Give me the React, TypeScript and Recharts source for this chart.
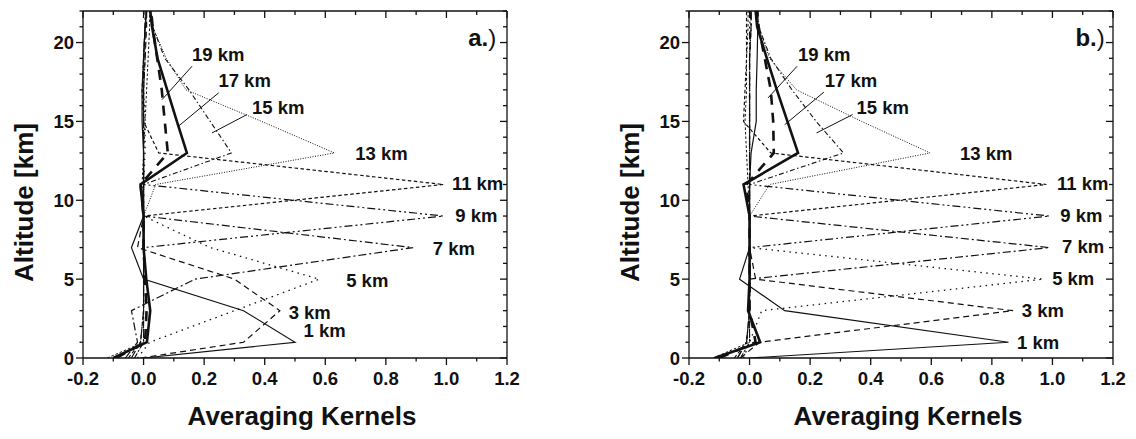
import React from 'react';
import { ScatterChart, Scatter, XAxis, YAxis, Label } from 'recharts';

// Retrieval altitude grid (km) on which every kernel is sampled
const ALTITUDES = [0, 1, 3, 5, 7, 9, 11, 13, 15, 17, 19, 21, 22];

// Kernel names (nominal altitude of each averaging kernel)
const KERNEL_NAMES = ['1 km', '3 km', '5 km', '7 km', '9 km', '11 km', '13 km', '15 km', '17 km', '19 km', '21 km'];

// Panel a.) kernel values, one array per kernel, one value per altitude
const A_K1 = [0.0, 0.5, 0.33, 0.0, -0.04, 0.0, 0.0, 0.0, -0.005, -0.005, 0.0, 0.005, 0.01];
const A_K3 = [-0.01, 0.33, 0.45, 0.3, -0.02, 0.0, 0.0, 0.0, 0.0, 0.0, 0.005, 0.01, 0.01];
const A_K5 = [-0.02, 0.02, 0.3, 0.58, 0.22, 0.0, 0.0, 0.005, 0.005, 0.0, 0.0, 0.005, 0.01];
const A_K7 = [-0.06, -0.02, -0.04, 0.17, 0.89, 0.0, 0.0, 0.0, 0.0, 0.0, 0.0, 0.005, 0.005];
const A_K9 = [-0.04, -0.01, 0.0, 0.0, 0.0, 0.99, 0.0, 0.0, 0.0, 0.0, 0.005, 0.005, 0.01];
const A_K11 = [-0.05, -0.01, 0.0, 0.0, 0.0, 0.0, 0.99, 0.05, 0.0, -0.005, 0.0, 0.005, 0.01];
const A_K13 = [-0.03, 0.0, 0.0, 0.0, 0.0, 0.0, 0.04, 0.63, 0.39, 0.14, 0.075, 0.03, 0.02];
const A_K15 = [-0.03, 0.0, 0.0, 0.0, 0.0, 0.0, 0.0, 0.29, 0.22, 0.15, 0.07, 0.03, 0.025];
const A_K17 = [-0.1, 0.011, 0.022, 0.009, 0.0, 0.0, -0.01, 0.143, 0.11, 0.078, 0.046, 0.028, 0.022];
const A_K19 = [-0.09, 0.005, 0.01, 0.005, 0.0, 0.0, -0.01, 0.08, 0.07, 0.06, 0.045, 0.03, 0.025];
const A_K21 = [-0.12, 0.0, 0.0, 0.0, 0.0, 0.0, -0.005, 0.0, 0.005, 0.01, 0.015, 0.02, 0.02];

// Panel b.) kernel values
const B_K1 = [0.0, 0.855, 0.116, -0.033, 0.0, 0.0, 0.0, 0.005, 0.022, 0.022, 0.025, 0.027, 0.028];
const B_K3 = [-0.03, 0.033, 0.87, 0.02, 0.0, 0.0, 0.0, 0.0, 0.0, 0.0, 0.0, 0.005, 0.005];
const B_K5 = [-0.02, 0.0, 0.04, 0.97, 0.0, 0.0, 0.0, 0.0, 0.0, 0.0, 0.0, 0.005, 0.005];
const B_K7 = [-0.04, -0.01, 0.0, 0.0, 0.99, 0.0, 0.0, 0.0, 0.0, 0.0, 0.0, 0.005, 0.005];
const B_K9 = [-0.04, -0.01, 0.0, 0.0, 0.0, 0.99, 0.0, 0.0, 0.0, 0.0, 0.0, 0.0, 0.005];
const B_K11 = [-0.05, -0.01, 0.0, 0.0, 0.0, 0.0, 0.98, 0.07, -0.02, -0.015, -0.01, -0.01, -0.01];
const B_K13 = [-0.03, 0.0, 0.0, 0.0, 0.0, 0.0, 0.066, 0.596, 0.37, 0.155, 0.066, 0.03, 0.025];
const B_K15 = [-0.03, 0.0, 0.0, 0.0, 0.0, 0.0, 0.0, 0.31, 0.22, 0.14, 0.07, 0.03, 0.025];
const B_K17 = [-0.115, 0.035, -0.005, 0.0, 0.0, 0.0, -0.02, 0.16, 0.125, 0.09, 0.057, 0.025, 0.02];
const B_K19 = [-0.1, 0.02, 0.0, 0.0, 0.0, 0.0, -0.01, 0.08, 0.078, 0.07, 0.05, 0.03, 0.025];
const B_K21 = [-0.12, 0.0, 0.0, 0.0, 0.0, 0.0, -0.005, -0.01, -0.015, -0.01, -0.01, -0.005, -0.005];

// In-plot kernel labels: text, kernel value (x) and altitude (y) of the text baseline start
const LABEL_TEXT = ['19 km', '17 km', '15 km', '13 km', '11 km', '9 km', '7 km', '5 km', '3 km', '1 km'];
const A_LABEL_X = [0.16, 0.247, 0.358, 0.699, 1.018, 1.029, 0.955, 0.669, 0.479, 0.528];
const A_LABEL_Y = [18.82, 17.21, 15.49, 12.57, 10.66, 8.61, 6.53, 4.51, 2.5, 1.32];
const B_LABEL_X = [0.16, 0.248, 0.353, 0.695, 1.015, 1.026, 1.032, 0.999, 0.899, 0.883];
const B_LABEL_Y = [18.82, 17.19, 15.49, 12.57, 10.66, 8.61, 6.64, 4.62, 2.61, 0.6];

// Leader lines from the 19/17/15 km labels to their curves: [x0, y0, x1, y1]
const A_LEADERS = [
  [0.16, 18.5, 0.061, 16.38],
  [0.248, 16.81, 0.116, 14.71],
  [0.341, 15.43, 0.226, 14.27],
];
const B_LEADERS = [
  [0.157, 18.5, 0.061, 16.49],
  [0.245, 16.85, 0.116, 14.79],
  [0.34, 15.43, 0.221, 14.27],
];

// Panel tags and their anchor positions
const A_TAG = { x: 1.072, y: 19.75, letter: 'a.' };
const B_TAG = { x: 1.076, y: 19.75, letter: 'b.' };

// Axis ticks
const X_TICKS = [-0.2, -0.1, 0, 0.1, 0.2, 0.3, 0.4, 0.5, 0.6, 0.7, 0.8, 0.9, 1.0, 1.1, 1.2];
const Y_TICKS = [0, 1, 2, 3, 4, 5, 6, 7, 8, 9, 10, 11, 12, 13, 14, 15, 16, 17, 18, 19, 20, 21, 22];

// Line styles per kernel, in the same order as KERNEL_NAMES
const LINE_STYLES = [
  { w: 1.2, dash: undefined },
  { w: 1.2, dash: '6 4' },
  { w: 1.3, dash: '1.5 4.5' },
  { w: 1.2, dash: '8 3 2 3' },
  { w: 1.2, dash: '8 3 2 3 2 3' },
  { w: 1.2, dash: '3.5 2.5' },
  { w: 1.0, dash: '1 1.5' },
  { w: 1.1, dash: '5 2.5 1.5 2.5' },
  { w: 2.6, dash: undefined },
  { w: 2.6, dash: '10 8' },
  { w: 1.0, dash: '2.5 2' },
];

const FONT = "'Liberation Sans', Arial, Helvetica, sans-serif";
const INK = '#111';

const isMajor = (v: number, step: number) => Math.abs(v / step - Math.round(v / step)) < 1e-6;

const toPoints = (values: number[]) => values.map((v, i) => ({ x: v, y: ALTITUDES[i] }));

const BottomTick = (p: any) => {
  const v = p.payload.value;
  const major = isMajor(v, 0.2);
  return (
    <g>
      <line x1={p.x} x2={p.x} y1={p.y} y2={p.y + (major ? 7 : 3.5)} stroke={INK} strokeWidth={1.3} />
      {major && (
        <text x={p.x} y={p.y + 27} textAnchor="middle" fontFamily={FONT} fontWeight="bold" fontSize={18.5} fill={INK}>
          {v.toFixed(1)}
        </text>
      )}
    </g>
  );
};

const TopTick = (p: any) => {
  const major = isMajor(p.payload.value, 0.2);
  return <line x1={p.x} x2={p.x} y1={p.y} y2={p.y + (major ? 7 : 4)} stroke={INK} strokeWidth={1.3} />;
};

const LeftTick = (p: any) => {
  const v = p.payload.value;
  const major = isMajor(v, 5);
  return (
    <g>
      <line x1={p.x - (major ? 7 : 3.5)} x2={p.x} y1={p.y} y2={p.y} stroke={INK} strokeWidth={1.3} />
      {major && (
        <text x={p.x - 9} y={p.y + 6.5} textAnchor="end" fontFamily={FONT} fontWeight="bold" fontSize={18.5} fill={INK}>
          {String(v)}
        </text>
      )}
    </g>
  );
};

const RightTick = (p: any) => {
  const major = isMajor(p.payload.value, 5);
  return <line x1={p.x - (major ? 7 : 4)} x2={p.x} y1={p.y} y2={p.y} stroke={INK} strokeWidth={1.3} />;
};

const NoShape = () => <g />;

const LabelShape = (p: any) => (
  <text x={p.cx} y={p.cy} fontFamily={FONT} fontWeight="bold" fontSize={18.5} fill={INK}>
    {p.payload.text}
  </text>
);

const TagShape = (p: any) => (
  <text x={p.cx} y={p.cy} fontFamily={FONT} fontSize={24} fill={INK}>
    <tspan fontWeight="bold">{p.payload.text}</tspan>
    <tspan fontWeight="normal">)</tspan>
  </text>
);

type PanelProps = {
  left: number;
  kernels: number[][];
  labelX: number[];
  labelY: number[];
  leaders: number[][];
  tag: { x: number; y: number; letter: string };
};

const axisLine = { stroke: INK, strokeWidth: 1.3 };

function Panel({ left, kernels, labelX, labelY, leaders, tag }: PanelProps) {
  const labelData = LABEL_TEXT.map((t, i) => ({ x: labelX[i], y: labelY[i], text: t }));
  const tagData = [{ x: tag.x, y: tag.y, text: tag.letter }];
  return (
    <div style={{ position: 'absolute', left, top: 0 }}>
      <ScatterChart width={530} height={439} margin={{ top: 10, right: 22, bottom: 51, left: 43 }}>
        <XAxis
          type="number"
          dataKey="x"
          domain={[-0.2, 1.2]}
          ticks={X_TICKS}
          interval={0}
          tickSize={0}
          tickMargin={0}
          tickLine={false}
          tick={(p: any) => <BottomTick {...p} />}
          height={30}
          axisLine={axisLine}
          allowDataOverflow
        >
          <Label
            content={(p: any) => {
              const vb = p.viewBox || { x: 83, y: 358, width: 424 };
              return (
                <text x={vb.x + vb.width / 2 + 7} y={vb.y + 67} textAnchor="middle" fontFamily={FONT} fontWeight="bold" fontSize={26} fill={INK}>
                  Averaging Kernels
                </text>
              );
            }}
          />
        </XAxis>
        <XAxis
          xAxisId="top"
          orientation="top"
          type="number"
          dataKey="x"
          domain={[-0.2, 1.2]}
          ticks={X_TICKS}
          interval={0}
          tickSize={0}
          tickMargin={0}
          tickLine={false}
          tick={(p: any) => <TopTick {...p} />}
          height={1}
          axisLine={axisLine}
          allowDataOverflow
        />
        <YAxis
          type="number"
          dataKey="y"
          domain={[0, 22]}
          ticks={Y_TICKS}
          interval={0}
          tickSize={0}
          tickMargin={0}
          tickLine={false}
          tick={(p: any) => <LeftTick {...p} />}
          width={40}
          axisLine={axisLine}
          allowDataOverflow
        >
          <Label
            content={(p: any) => {
              const vb = p.viewBox || { x: 43, y: 11, height: 347 };
              const cx = vb.x - 10;
              const cy = vb.y + vb.height / 2 + 18;
              return (
                <text x={cx} y={cy} transform={`rotate(-90 ${cx} ${cy})`} textAnchor="middle" fontFamily={FONT} fontWeight="bold" fontSize={26} fill={INK}>
                  Altitude [km]
                </text>
              );
            }}
          />
        </YAxis>
        <YAxis
          yAxisId="right"
          orientation="right"
          type="number"
          dataKey="y"
          domain={[0, 22]}
          ticks={Y_TICKS}
          interval={0}
          tickSize={0}
          tickMargin={0}
          tickLine={false}
          tick={(p: any) => <RightTick {...p} />}
          width={1}
          axisLine={axisLine}
          allowDataOverflow
        />
        {kernels.map((vals, i) => (
          <Scatter
            key={KERNEL_NAMES[i]}
            name={KERNEL_NAMES[i]}
            data={toPoints(vals)}
            line={{ stroke: INK, strokeWidth: LINE_STYLES[i].w, strokeDasharray: LINE_STYLES[i].dash, fill: 'none' }}
            lineType="joint"
            shape={NoShape}
            isAnimationActive={false}
            legendType="none"
          />
        ))}
        {leaders.map((l, i) => (
          <Scatter
            key={`leader-${i}`}
            data={[{ x: l[0], y: l[1] }, { x: l[2], y: l[3] }]}
            line={{ stroke: INK, strokeWidth: 1, fill: 'none' }}
            lineType="joint"
            shape={NoShape}
            isAnimationActive={false}
            legendType="none"
          />
        ))}
        <Scatter data={labelData} shape={LabelShape} isAnimationActive={false} legendType="none" />
        {/* the panel tag is placed on the mirrored top/right axes (same domains) */}
        <Scatter xAxisId="top" yAxisId="right" data={tagData} shape={TagShape} isAnimationActive={false} legendType="none" />
      </ScatterChart>
    </div>
  );
}

const PANEL_A = [A_K1, A_K3, A_K5, A_K7, A_K9, A_K11, A_K13, A_K15, A_K17, A_K19, A_K21];
const PANEL_B = [B_K1, B_K3, B_K5, B_K7, B_K9, B_K11, B_K13, B_K15, B_K17, B_K19, B_K21];

export default function App() {
  return (
    <div style={{ position: 'absolute', left: 0, top: 0, width: 1136, height: 439, background: '#fff', overflow: 'hidden' }}>
      <Panel left={0} kernels={PANEL_A} labelX={A_LABEL_X} labelY={A_LABEL_Y} leaders={A_LEADERS} tag={A_TAG} />
      <Panel left={606} kernels={PANEL_B} labelX={B_LABEL_X} labelY={B_LABEL_Y} leaders={B_LEADERS} tag={B_TAG} />
    </div>
  );
}
